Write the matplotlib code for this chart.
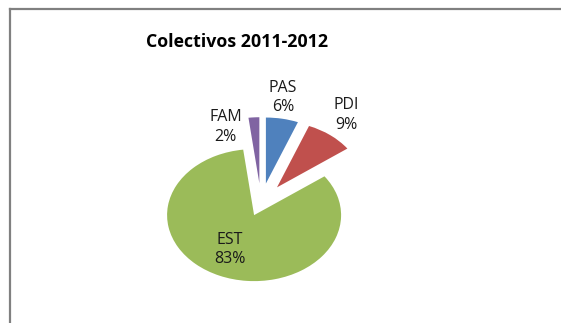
import matplotlib
matplotlib.use("Agg")
import matplotlib.pyplot as plt
from matplotlib.lines import Line2D
import numpy as np

plt.rcParams['font.family'] = ['Open Sans', 'DejaVu Sans']

title = "Colectivos 2011-2012"
categories = ["PAS", "PDI", "EST", "FAM"]
values = [6, 9, 83, 2]
colors = ["#4F81BD", "#C0504D", "#9BBB59", "#8064A2"]
explode = [0.3, 0.3, 0.2, 0.3]

W, H = 561, 323
fig = plt.figure(figsize=(W / 100, H / 100), dpi=100)
ax = fig.add_axes([0, 0, 1, 1])

wedges, _ = ax.pie(values, colors=colors, explode=explode, startangle=90,
                   counterclock=False, radius=1.0,
                   wedgeprops=dict(linewidth=0))

# pixel geometry: pie center and radii (x,y) in pixels
cx, cy, rx, ry = 261, 203, 87, 66
ax.set_aspect('auto')
ax.set_xlim(-cx / rx, (W - cx) / rx)
ax.set_ylim(-(H - cy) / ry, cy / ry)
ax.axis('off')

# label placement (radius from pie center, angle offset in degrees)
label_r = [1.62, 1.65, 0.79, 1.22]
label_off = [1.8, 1.5, -3.5, 16.0]
total = sum(values)
for w, cat, v, r, off in zip(wedges, categories, values, label_r, label_off):
    mid = np.deg2rad((w.theta1 + w.theta2) / 2 + off)
    pct = f"{round(100 * v / total)}%"
    ax.text(r * np.cos(mid), r * np.sin(mid), f"{cat}\n{pct}",
            ha='center', va='center', fontsize=11.5, color='#1a1a1a',
            linespacing=1.3)

fig.text(237 / W, 1 - 42 / H, title, ha='center', va='center',
         fontsize=12.8, fontweight='bold', color='black')

# chart border (top and left visible)
fig.add_artist(Line2D([10 / W, 1], [1 - 9 / H, 1 - 9 / H], color='#808080',
                      lw=1.6, transform=fig.transFigure))
fig.add_artist(Line2D([10 / W, 10 / W], [0, 1 - 9 / H], color='#808080',
                      lw=1.6, transform=fig.transFigure))

fig.savefig("out.png", dpi=100)
